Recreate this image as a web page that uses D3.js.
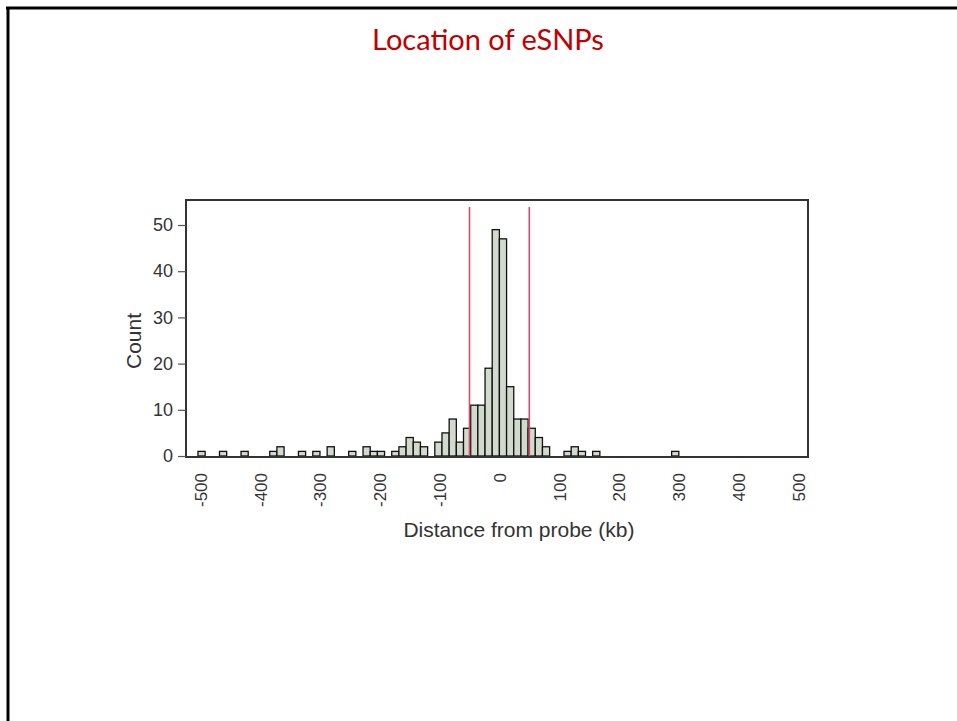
<!DOCTYPE html>
<html>
<head>
<meta charset="utf-8">
<script src="https://cdn.jsdelivr.net/npm/d3@7"></script>
<style>
  html, body { margin: 0; padding: 0; background: #fff; }
  svg { display: block; }
</style>
</head>
<body>
<div id="chart"></div>
<script>
/* Data */
/* ==== */
const title = "Location of eSNPs";
const xLabel = "Distance from probe (kb)";
const yLabel = "Count";
const binWidth = 12; // kb
// left edge of each non-empty bin (kb) and its count
const binStarts = [
  -504, -468, -432, -384, -372, -336, -312, -288, -252, -228, -216, -204,
  -180, -168, -156, -144, -132, -108, -96, -84, -72, -60, -48, -36, -24, -12,
  0, 12, 24, 36, 48, 60, 72, 108, 120, 132, 156, 288,
];
const counts = [
  1, 1, 1, 1, 2, 1, 1, 2, 1, 2, 1, 1,
  1, 2, 4, 3, 2, 3, 5, 8, 3, 6, 11, 11, 19, 49,
  47, 15, 8, 8, 6, 4, 2, 1, 2, 1, 1, 1,
];
const cutoffs = [-50, 50];
const xTicks = [-500, -400, -300, -200, -100, 0, 100, 200, 300, 400, 500];
const yTicks = [0, 10, 20, 30, 40, 50];

/* Set up */
/* ====== */
const width = 957;
const height = 721;
const box = { left: 186, right: 808, top: 200, bottom: 457 };

const svg = d3
  .select("#chart")
  .append("svg")
  .attr("width", width)
  .attr("height", height);

// slide frame
svg
  .append("path")
  .attr("d", `M6,8H${width}M8,8V${height}`)
  .attr("fill", "none")
  .attr("stroke", "#000")
  .attr("stroke-width", 3);

svg
  .append("text")
  .attr("x", 488)
  .attr("y", 50)
  .attr("text-anchor", "middle")
  .attr("font-family", "Lato, 'Open Sans', sans-serif")
  .attr("font-size", 29)
  .attr("fill", "#c00000")
  .text(title);

const x = d3.scaleLinear().domain([-524, 516]).range([box.left, box.right]);
const y = d3.scaleLinear().domain([0, 50]).range([456, 225]);

const bins = binStarts.map((b, i) => ({ x0: b, x1: b + binWidth, n: counts[i] }));

/* Bars */
/* ==== */
svg
  .append("g")
  .selectAll("rect")
  .data(bins)
  .join("rect")
  .attr("x", (d) => x(d.x0))
  .attr("width", (d) => x(d.x1) - x(d.x0))
  .attr("y", (d) => y(d.n))
  .attr("height", (d) => y(0) - y(d.n))
  .attr("fill", "#d2dacd")
  .attr("stroke", "#111")
  .attr("stroke-width", 1.3);

// cutoff lines
svg
  .append("g")
  .selectAll("line")
  .data(cutoffs)
  .join("line")
  .attr("x1", (d) => x(d))
  .attr("x2", (d) => x(d))
  .attr("y1", 207)
  .attr("y2", y(0))
  .attr("stroke", "#d64a6c")
  .attr("stroke-width", 1.6);

// plot box
svg
  .append("rect")
  .attr("x", box.left)
  .attr("y", box.top)
  .attr("width", box.right - box.left)
  .attr("height", box.bottom - box.top)
  .attr("fill", "none")
  .attr("stroke", "#333")
  .attr("stroke-width", 2);

/* Axes */
/* ==== */
const yAxis = svg
  .append("g")
  .attr("transform", `translate(${box.left},0)`)
  .call(d3.axisLeft(y).tickValues(yTicks).tickSize(8).tickPadding(5));
yAxis.select(".domain").remove();
yAxis.selectAll("line").attr("stroke", "#555").attr("stroke-width", 1.2);
yAxis
  .selectAll("text")
  .attr("font-family", "'Liberation Sans', Arial, sans-serif")
  .attr("font-size", 18)
  .attr("fill", "#333");

const xAxis = svg
  .append("g")
  .attr("transform", `translate(0,${box.bottom})`)
  .call(d3.axisBottom(x).tickValues(xTicks).tickFormat(String).tickSize(0));
xAxis.select(".domain").remove();
xAxis
  .selectAll("text")
  .attr("transform", "rotate(-90)")
  .attr("x", -16)
  .attr("y", 0)
  .attr("dy", "0.35em")
  .attr("text-anchor", "end")
  .attr("font-family", "'Liberation Sans', Arial, sans-serif")
  .attr("font-size", 17)
  .attr("fill", "#333");

svg
  .append("text")
  .attr("x", 519)
  .attr("y", 537)
  .attr("text-anchor", "middle")
  .attr("font-family", "'Liberation Sans', Arial, sans-serif")
  .attr("font-size", 21)
  .attr("fill", "#333")
  .text(xLabel);

svg
  .append("text")
  .attr("transform", "translate(141,341) rotate(-90)")
  .attr("text-anchor", "middle")
  .attr("font-family", "'Liberation Sans', Arial, sans-serif")
  .attr("font-size", 21)
  .attr("fill", "#333")
  .text(yLabel);
</script>
</body>
</html>
